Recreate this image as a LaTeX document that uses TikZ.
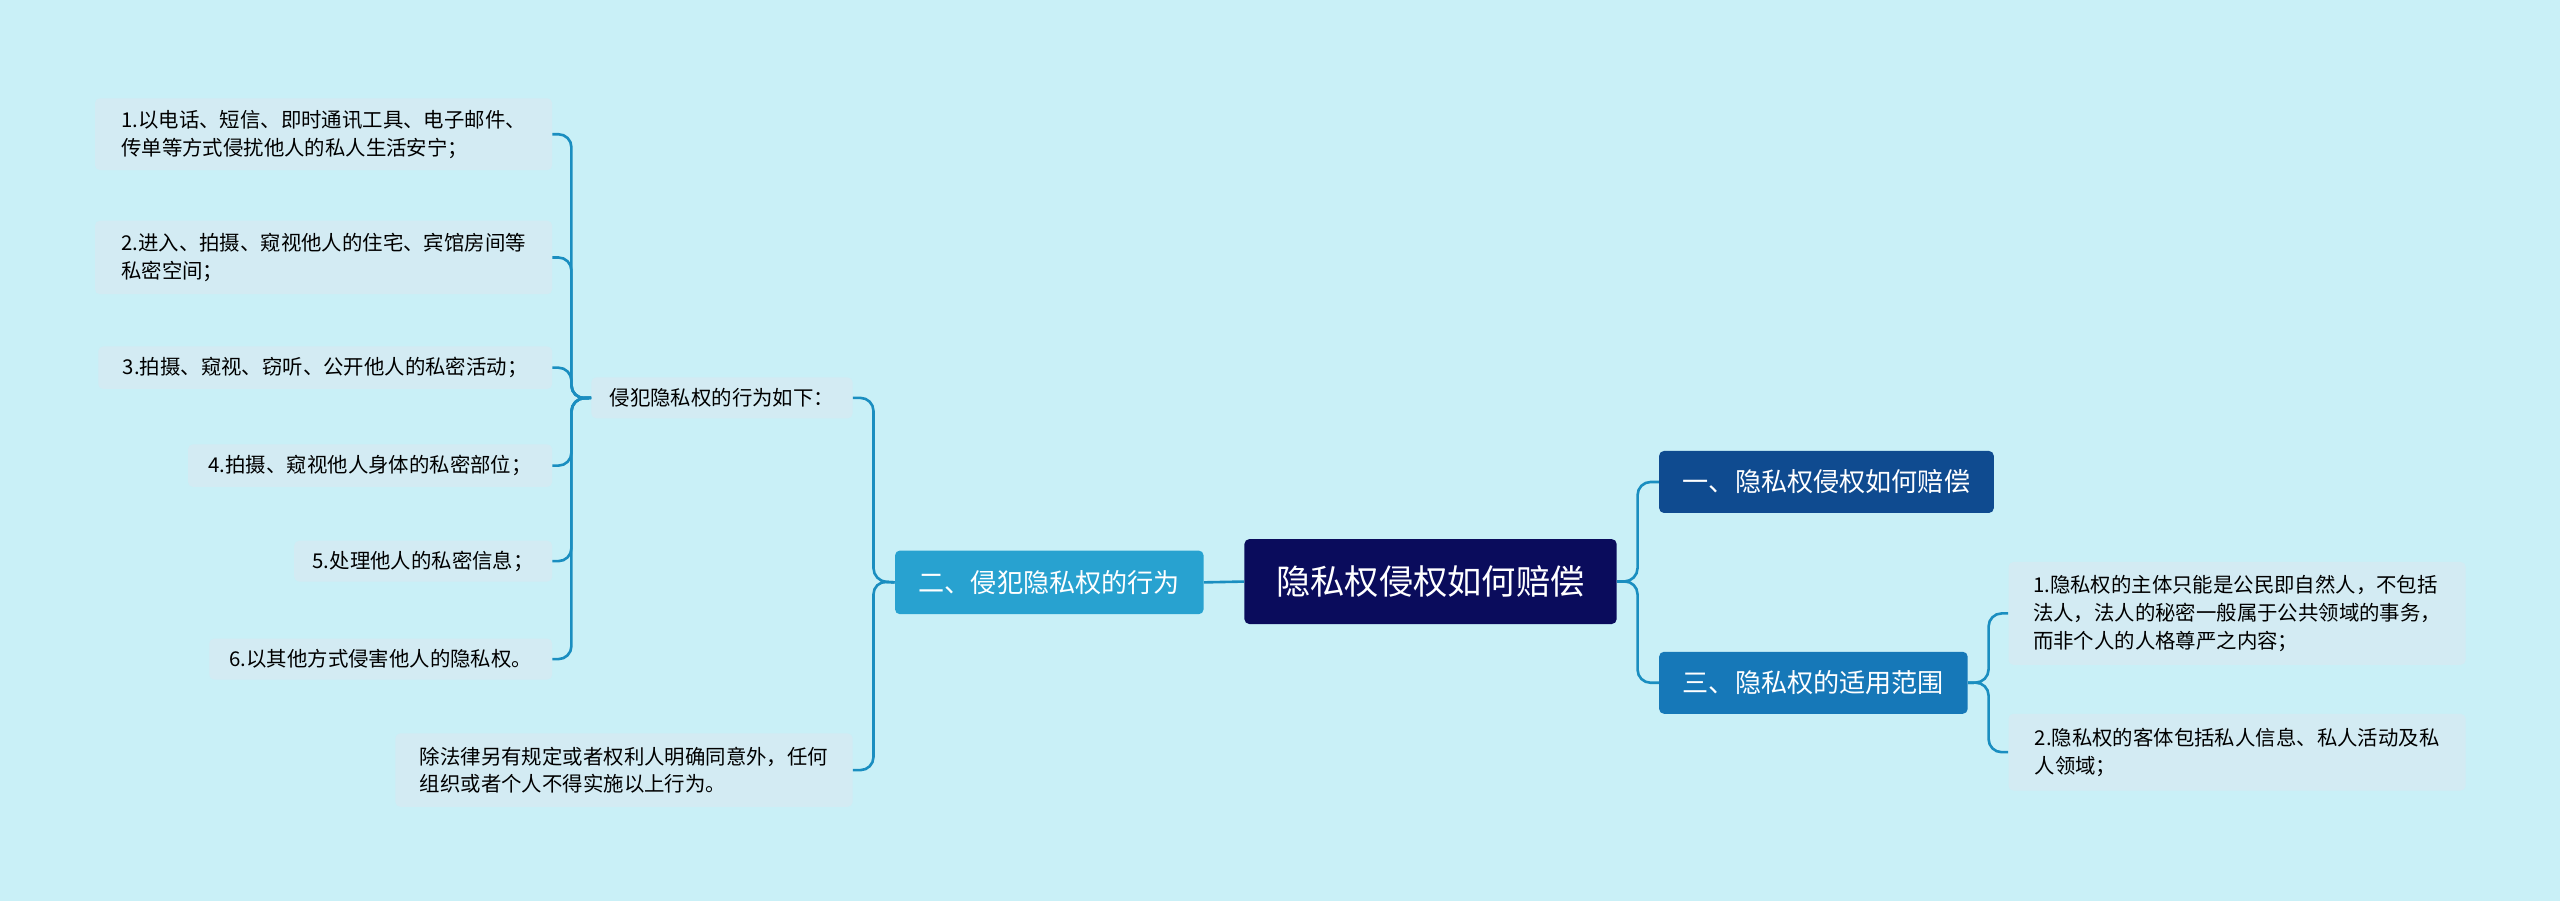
\documentclass[tikz,border=0pt]{standalone}
\usepackage{fontspec}
\setmainfont{Noto Sans CJK SC}
\begin{document}
\begin{tikzpicture}[x=1pt,y=-1pt,
 box/.style={anchor=north west,inner sep=0pt,rounded corners=3pt},
 leaf/.style={box,fill=leafc,text=black,font=\fontsize{12.5}{17}\selectfont,align=left},
 conn/.style={draw=linec,line width=1.6pt,rounded corners=8pt}]
\definecolor{bgc}{HTML}{C9F0F7}
\definecolor{leafc}{HTML}{D3EBF3}
\definecolor{linec}{HTML}{1A8EC0}
\definecolor{cen}{HTML}{0A0C5C}
\definecolor{ra}{HTML}{0F4B90}
\definecolor{rb}{HTML}{1678B8}
\definecolor{la}{HTML}{28A2D0}
\fill[bgc] (0,0) rectangle (1568,552);
\useasboundingbox (0,0) rectangle (1568,552);
% main nodes
\node[box,fill=cen,text=white,minimum width=228pt,minimum height=52pt,font=\fontsize{21}{24}\selectfont] (c) at (762,330) {隐私权侵权如何赔偿};
\node[box,fill=ra,text=white,minimum width=205pt,minimum height=38pt,font=\fontsize{16}{19}\selectfont] (r1) at (1016,276) {一、隐私权侵权如何赔偿};
\node[box,fill=rb,text=white,minimum width=189pt,minimum height=38pt,font=\fontsize{16}{19}\selectfont] (r2) at (1016,399) {三、隐私权的适用范围};
\node[box,fill=la,text=white,minimum width=189pt,minimum height=39pt,font=\fontsize{16}{19}\selectfont] (l) at (548,337) {二、侵犯隐私权的行为};
% right leaves
\node[leaf,minimum width=280pt,minimum height=63pt,inner xsep=6pt] (ra1) at (1230,344) {1.隐私权的主体只能是公民即自然人，不包括\\法人，法人的秘密一般属于公共领域的事务，\\而非个人的人格尊严之内容；};
\node[leaf,minimum width=280pt,minimum height=47pt,inner xsep=6pt] (ra2) at (1230,437) {2.隐私权的客体包括私人信息、私人活动及私\\人领域；};
% left
\node[leaf,minimum width=160pt,minimum height=25pt,align=center] (lh) at (362,231) {侵犯隐私权的行为如下：};
\node[leaf,minimum width=280pt,minimum height=45pt,inner xsep=7pt] (lf) at (242,449) {除法律另有规定或者权利人明确同意外，任何\\组织或者个人不得实施以上行为。};
\node[leaf,minimum width=280pt,minimum height=44pt,inner xsep=6pt] (a1) at (58,60) {1.以电话、短信、即时通讯工具、电子邮件、\\传单等方式侵扰他人的私人生活安宁；};
\node[leaf,minimum width=280pt,minimum height=45pt,inner xsep=6pt] (a2) at (58,135) {2.进入、拍摄、窥视他人的住宅、宾馆房间等\\私密空间；};
\node[leaf,minimum width=278pt,minimum height=26pt,align=center] (a3) at (60,212) {3.拍摄、窥视、窃听、公开他人的私密活动；};
\node[leaf,minimum width=223pt,minimum height=26pt,align=center] (a4) at (115,272) {4.拍摄、窥视他人身体的私密部位；};
\node[leaf,minimum width=158pt,minimum height=25pt,align=center] (a5) at (180,331) {5.处理他人的私密信息；};
\node[leaf,minimum width=210pt,minimum height=25pt,align=center] (a6) at (128,391) {6.以其他方式侵害他人的隐私权。};
% connectors
\draw[conn] (c.east) -- (1003,356) |- (r1.west);
\draw[conn] (c.east) -- (1003,356) |- (r2.west);
\draw[conn] (r2.east) -- (1218,418) |- (ra1.west);
\draw[conn] (r2.east) -- (1218,418) |- (ra2.west);
\draw[conn] (c.west) -- (l.east);
\draw[conn] (l.west) -- (535,356) |- (lh.east);
\draw[conn] (l.west) -- (535,356) |- (lf.east);
\foreach \n in {a1,a2,a3,a4,a5,a6}{
 \draw[conn] (lh.west) -- (350,244) |- (\n.east);}
\end{tikzpicture}
\end{document}
